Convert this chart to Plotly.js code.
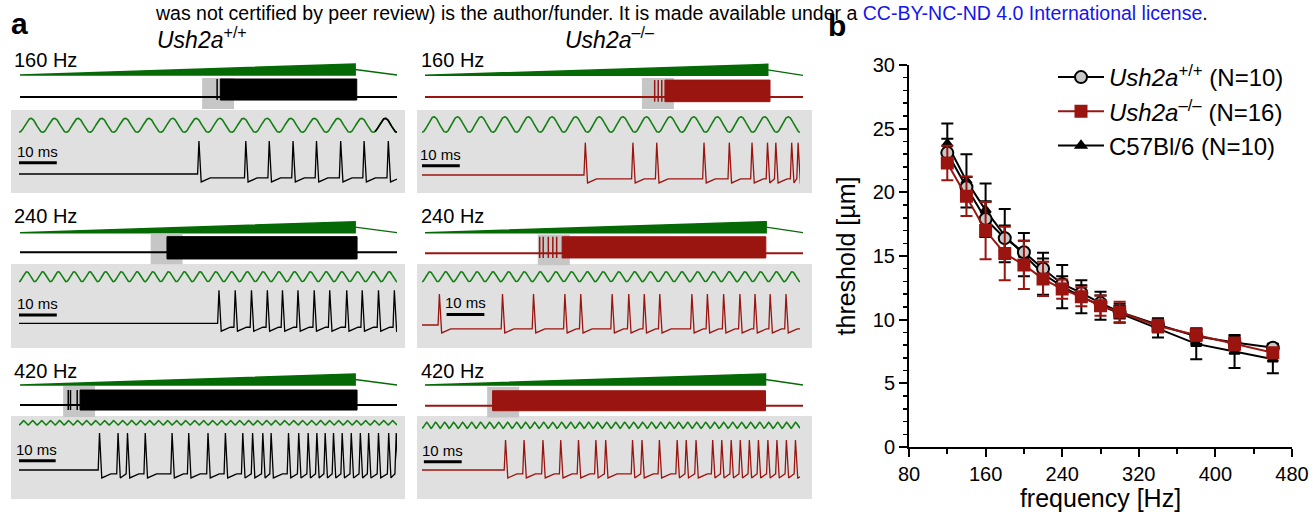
<!DOCTYPE html>
<html><head><meta charset="utf-8">
<script src="https://cdn.plot.ly/plotly-3.0.1.min.js"></script>
<style>html,body{margin:0;padding:0;background:#fff;}#chart{width:1313px;height:512px;}</style>
</head><body><div id="chart"></div>
<script>
// ---------------- Panel b data ----------------
const freqHz = [120,140,160,180,200,220,240,260,280,300,340,380,420,460];
const thrWT  = [23.1,20.4,17.9,16.4,15.3,14.0,12.8,12.1,11.3,10.6,9.6,8.7,8.2,7.8];
const errWT  = [1.1,0.8,1.4,1.0,0.9,0.8,0.6,0.6,0.6,0.5,0.5,0.6,0.5,0.3];
const thrKO  = [22.3,19.7,17.0,15.2,14.3,13.2,12.4,11.8,11.1,10.6,9.5,8.8,8.1,7.4];
const errKO  = [1.35,1.55,2.25,2.1,1.9,1.35,0.75,0.75,0.8,0.8,0.5,0.45,0.5,0.3];
const thrB6  = [23.8,20.9,18.6,16.6,15.1,13.6,12.6,11.8,11.1,10.5,9.35,8.1,7.5,6.9];
const errB6  = [1.6,2.1,2.1,2.1,1.7,1.65,1.7,1.3,1.1,0.75,0.75,1.2,1.3,1.1];
const legendNames = ['<i>Ush2a</i><sup>+/+</sup> (N=10)','<i>Ush2a</i><sup>–/–</sup> (N=16)','C57Bl/6 (N=10)'];

// ---------------- Panel a data ----------------
const rowLabels = ['160 Hz','240 Hz','420 Hz'];
const stimFreqHz = [160,240,420];
const colTitles = ['<i>Ush2a</i><sup>+/+</sup>','<i>Ush2a</i><sup>–/–</sup>'];
const sweepSec = 1.18, windowMs = 100, scaleBarMs = 10;
const rampEndWT = [1.049,1.049,1.049], rampEndKO = [1.070,1.065,1.063];
const decayLevel = [0.5, 0];
const burstStartWT = [0.627,0.460,0.188], burstEndWT = [1.054,1.055,1.055];
const burstStartKO = [0.749,0.428,0.211], burstEndKO = [1.077,1.064,1.063];
const burstTopWT = [1.0,0.87,0.83], burstBotWT = [-0.17,-0.37,-0.28];
const burstTopKO = [0.94,0.92,0.83], burstBotKO = [-0.26,-0.26,-0.28];
const onsetWT = [[0.617],[],[0.151,0.158,0.179]];
const onsetKO = [[0.717,0.728,0.739],[0.358,0.369,0.385,0.399,0.411],[0.243]];
const winStartWT = [0.570,0.409,0.135], winStartKO = [0.677,0.352,0.194];
const stimAmpDetWT = [1.0,0.71,0.31], stimAmpDetKO = [1.11,0.71,0.43];
const stimTailBlackMsWT = [94.2,null,null];
const spikeHtWT = [1.0,1.0,1.12], spikeHtKO = [0.98,0.94,0.91];
const spikesWT = [
  [47.6,60.0,66.2,72.5,78.7,85.1,91.3,97.7],
  [52.9,57.2,61.5,65.7,69.7,73.8,78.1,82.2,86.7,90.8,95.1,99.3],
  [21.3,26.2,28.7,33.4,40.5,44.9,50.0,54.6,59.2,61.8,64.5,66.7,71.3,74.0,76.5,78.8,81.0,83.2,85.5,87.9,90.3,92.5,95.1,97.8,99.8]
];
const spikesKO = [
  [43.2,55.8,62.1,74.6,81.3,87.3,91.4,93.6,97.8,99.5],
  [4.6,21.3,29.5,37.8,42.0,50.3,54.7,58.8,62.9,71.4,75.5,79.8,84.1,88.1,92.1,96.3],
  [22.1,27.0,32.0,36.7,41.4,46.0,48.6,55.7,58.2,62.8,67.5,69.9,72.5,76.9,79.3,81.8,84.2,86.6,89.0,91.5,93.9,96.4,98.8]
];

// ---------------- styling / geometry ----------------
const W = 1313, H = 512;
const FONT = 'Arial, "Liberation Sans", sans-serif';
const px = x => x / W, py = y => 1 - y / H;
const RED = '#9a1510', GREEN_OV = '#056a05', GREEN_SINE = '#148014', PANEL_GRAY = '#e0e0e0', BOX_GRAY = '#c6c6c6';

const colGeo = [
  {ovX:[20,397], detX:[19,397], panel:[11,405], labelX:12, titleX:202, color:'#000000'},
  {ovX:[425,803], detX:[422,800], panel:[417,812], labelX:419, titleX:609, color:RED}
];
const rowGeo = [
  {label:60.3, panelY:[110,193], ovStim:[75,75.3], ovResp:[97,97], detStim:[125.3,124.5], detResp:[174,175], barY:[0.34,0.28], barOff:[0,0]},
  {label:215.5, panelY:[264,348], ovStim:[232.7,232.7], ovResp:[252.3,253.3], detStim:[276.7,276.7], detResp:[323.3,325], barY:[0.25,0.32], barOff:[0,6.5]},
  {label:370.5, panelY:[416,499], ovStim:[385,385], ovResp:[405,405.7], detStim:[422.8,425.3], detResp:[470,470], barY:[0.28,0.25], barOff:[-0.3,0.5]}
];

const hidden = o => Object.assign({visible:false, showgrid:false, zeroline:false, fixedrange:true, automargin:false}, o);

const traces = [];
const layout = {
  width:W, height:H, margin:{l:0,r:0,t:0,b:0},
  paper_bgcolor:'#ffffff', plot_bgcolor:'rgba(0,0,0,0)',
  font:{family:FONT, color:'#000'},
  showlegend:true, shapes:[], annotations:[]
};

// -------- Panel b --------
function seriesB(name, y, err, color, symbol, fill, size, rank){
  return {type:'scatter', mode:'lines+markers', x:freqHz, y:y, name:name, legendrank:rank,
    xaxis:'x', yaxis:'y', line:{color:color, width:2},
    marker:{symbol:symbol, size:size, color:fill, line:{color:color, width:2}},
    error_y:{type:'data', array:err, visible:true, color:color, thickness:2, width:6}};
}
traces.push(seriesB(legendNames[2], thrB6, errB6, '#000000', 'triangle-up', '#000000', 9, 3));
traces.push(seriesB(legendNames[0], thrWT, errWT, '#000000', 'circle', '#c8c8c8', 12, 1));
traces.push(seriesB(legendNames[1], thrKO, errKO, RED, 'square', RED, 11, 2));

layout.xaxis = {domain:[px(909),px(1292)], range:[80,480], tick0:80, dtick:80, ticks:'outside', ticklen:8, tickwidth:2, tickcolor:'#000',
  showline:true, linewidth:2, linecolor:'#000', showgrid:false, zeroline:false, anchor:'y', automargin:false, fixedrange:true,
  minor:{tick0:80, dtick:40, ticks:'outside', ticklen:5, tickwidth:2, tickcolor:'#000', showgrid:false},
  tickfont:{size:20, family:FONT}, title:{text:'frequency [Hz]', font:{size:25, family:FONT}, standoff:9}};
layout.yaxis = {domain:[py(447),py(65)], range:[0,30], tick0:0, dtick:5, ticks:'outside', ticklen:8, tickwidth:2, tickcolor:'#000',
  showline:true, linewidth:2, linecolor:'#000', showgrid:false, zeroline:false, anchor:'x', automargin:false, fixedrange:true,
  minor:{tick0:0, dtick:1, ticks:'outside', ticklen:4, tickwidth:1.5, tickcolor:'#000', showgrid:false},
  tickfont:{size:20, family:FONT}, title:{text:'threshold [µm]', font:{size:25, family:FONT}, standoff:10}};
layout.legend = {x:px(1053), y:py(55), xanchor:'left', yanchor:'top', font:{size:24, family:FONT, color:'#000'},
  bgcolor:'rgba(0,0,0,0)', itemwidth:46, tracegroupgap:0};

// -------- Panel a --------
function spikeTrace(spk, ht){
  const x=[0], y=[0];
  let level = 0;
  spk.forEach((s,i)=>{
    const next = i < spk.length-1 ? spk[i+1] : windowMs + 5;
    x.push(s-0.35); y.push(level);
    x.push(s); y.push(ht);
    x.push(s+0.6); y.push(-0.24);
    const rec = Math.min(s+3.0, next-0.4);
    x.push(rec); y.push(-0.12);
    level = -0.12;
  });
  if (x[x.length-1] < windowMs) { x.push(windowMs); y.push(level); }
  return {x, y};
}

for (let r=0; r<3; r++){
  for (let c=0; c<2; c++){
    const p = r*2 + c;
    const cg = colGeo[c], rg = rowGeo[r];
    const isWT = c === 0;
    const col = cg.color;
    const xo = 2+2*p, xd = 3+2*p;
    const ys = 2+4*p, yr = 3+4*p, yds = 4+4*p, ydr = 5+4*p;
    const rampEnd = isWT ? rampEndWT[r] : rampEndKO[r];
    const bS = isWT ? burstStartWT[r] : burstStartKO[r];
    const bE = isWT ? burstEndWT[r] : burstEndKO[r];
    const bT = isWT ? burstTopWT[r] : burstTopKO[r];
    const bB = isWT ? burstBotWT[r] : burstBotKO[r];
    const onset = isWT ? onsetWT[r] : onsetKO[r];
    const win0 = isWT ? winStartWT[r] : winStartKO[r];
    const amp = isWT ? stimAmpDetWT[r] : stimAmpDetKO[r];
    const spk = isWT ? spikesWT[r] : spikesKO[r];
    const ht = isWT ? spikeHtWT[r] : spikeHtKO[r];

    const sB = rg.ovStim[c], rB = rg.ovResp[c], dS = rg.detStim[c], dR = rg.detResp[c];
    layout['xaxis'+xo] = hidden({domain:[px(cg.ovX[0]),px(cg.ovX[1])], range:[0,sweepSec], anchor:'y'+ys});
    layout['xaxis'+xd] = hidden({domain:[px(cg.detX[0]),px(cg.detX[1])], range:[0,windowMs], anchor:'y'+yds});
    layout['yaxis'+ys] = hidden({domain:[py(sB+4),py(sB-14)], range:[-4/11,14/11], anchor:'x'+xo});
    layout['yaxis'+yr] = hidden({domain:[py(rB+14),py(rB-22)], range:[-14/18,22/18], anchor:'x'+xo});
    layout['yaxis'+yds] = hidden({domain:[py(dS+10),py(dS-10)], range:[-10/7,10/7], anchor:'x'+xd});
    layout['yaxis'+ydr] = hidden({domain:[py(dR+22),py(dR-46)], range:[-22/33,46/33], anchor:'x'+xd});

    layout.shapes.push({type:'rect', xref:'paper', yref:'paper', layer:'below',
      x0:px(cg.panel[0]), x1:px(cg.panel[1]), y0:py(rg.panelY[1]), y1:py(rg.panelY[0]),
      fillcolor:PANEL_GRAY, line:{width:0}});
    layout.shapes.push({type:'rect', xref:'x'+xo, yref:'y'+yr, layer:'below',
      x0:win0, x1:win0 + windowMs/1000, y0:-0.66, y1:1.05, fillcolor:BOX_GRAY, line:{width:0}});

    traces.push({type:'scatter', mode:'lines', x:[0,rampEnd,rampEnd,0], y:[0,1,0,0], fill:'toself',
      fillcolor:GREEN_OV, line:{color:GREEN_OV, width:1.5}, xaxis:'x'+xo, yaxis:'y'+ys, showlegend:false, hoverinfo:'skip'});
    traces.push({type:'scatter', mode:'lines', x:[rampEnd,sweepSec], y:decayLevel,
      line:{color:GREEN_OV, width:1.3}, xaxis:'x'+xo, yaxis:'y'+ys, showlegend:false, hoverinfo:'skip'});

    traces.push({type:'scatter', mode:'lines', x:[0,sweepSec], y:[0,0], line:{color:col, width:2},
      xaxis:'x'+xo, yaxis:'y'+yr, showlegend:false, hoverinfo:'skip'});
    if (onset.length){
      const ox=[], oy=[];
      onset.forEach(t=>{ ox.push(t,t,null); oy.push(bB,bT,null); });
      traces.push({type:'scatter', mode:'lines', x:ox, y:oy, line:{color:col, width:1.5},
        xaxis:'x'+xo, yaxis:'y'+yr, showlegend:false, hoverinfo:'skip'});
    }
    traces.push({type:'scatter', mode:'lines', x:[bS,bE,bE,bS,bS], y:[bB,bB,bT,bT,bB], fill:'toself',
      fillcolor:col, line:{color:col, width:1}, xaxis:'x'+xo, yaxis:'y'+yr, showlegend:false, hoverinfo:'skip'});

    const sx=[], sy=[];
    for (let i=0; i<=2000; i++){ const t=i*windowMs/2000; sx.push(t); sy.push(-amp*Math.cos(2*Math.PI*stimFreqHz[r]*t/1000)); }
    traces.push({type:'scatter', mode:'lines', x:sx, y:sy, line:{color:GREEN_SINE, width:1.6},
      xaxis:'x'+xd, yaxis:'y'+yds, showlegend:false, hoverinfo:'skip'});
    if (isWT && stimTailBlackMsWT[r] !== null){
      const tx=[], ty=[];
      sx.forEach((t,i)=>{ if (t>=stimTailBlackMsWT[r]) { tx.push(t); ty.push(sy[i]); } });
      traces.push({type:'scatter', mode:'lines', x:tx, y:ty, line:{color:'#000', width:1.6},
        xaxis:'x'+xd, yaxis:'y'+yds, showlegend:false, hoverinfo:'skip'});
    }

    const st = spikeTrace(spk, ht);
    traces.push({type:'scatter', mode:'lines', x:st.x, y:st.y, line:{color:col, width:1.3},
      xaxis:'x'+xd, yaxis:'y'+ydr, showlegend:false, hoverinfo:'skip'});

    const b0 = rg.barOff[c], bY = rg.barY[c];
    layout.shapes.push({type:'line', xref:'x'+xd, yref:'y'+ydr, x0:b0, x1:b0+scaleBarMs, y0:bY, y1:bY,
      line:{color:'#000', width:3}});
    layout.annotations.push({xref:'x'+xd, yref:'y'+ydr, x:b0+scaleBarMs/2, y:bY, yanchor:'bottom', xanchor:'center',
      yshift:1, text:'10 ms', showarrow:false, font:{size:15, family:FONT, color:'#000'}});

    layout.annotations.push({xref:'paper', yref:'paper', x:px(cg.labelX), y:py(rg.label), xanchor:'left', yanchor:'middle',
      text:rowLabels[r], showarrow:false, font:{size:20, family:FONT, color:'#000'}});
  }
}

colGeo.forEach((cg,c)=>{
  layout.annotations.push({xref:'paper', yref:'paper', x:px(cg.titleX), y:py(38), xanchor:'center', yanchor:'middle',
    text:colTitles[c], showarrow:false, font:{size:23, family:FONT, color:'#000'}});
});
layout.annotations.push({xref:'paper', yref:'paper', x:px(9), y:py(23), xanchor:'left', yanchor:'middle',
  text:'<b>a</b>', showarrow:false, font:{size:30, family:FONT, color:'#000'}});
layout.annotations.push({xref:'paper', yref:'paper', x:px(826), y:py(25), xanchor:'left', yanchor:'middle',
  text:'<b>b</b>', showarrow:false, font:{size:30, family:FONT, color:'#000'}});
layout.annotations.push({xref:'paper', yref:'paper', x:px(681), y:py(12.5), xanchor:'center', yanchor:'middle',
  text:'was not certified by peer review) is the author/funder. It is made available under a <span style="color:#1515ee">CC-BY-NC-ND 4.0 International license</span>.',
  showarrow:false, font:{size:19.5, family:FONT, color:'#000'}});

Plotly.newPlot('chart', traces, layout, {staticPlot:true, displayModeBar:false});
</script></body></html>
